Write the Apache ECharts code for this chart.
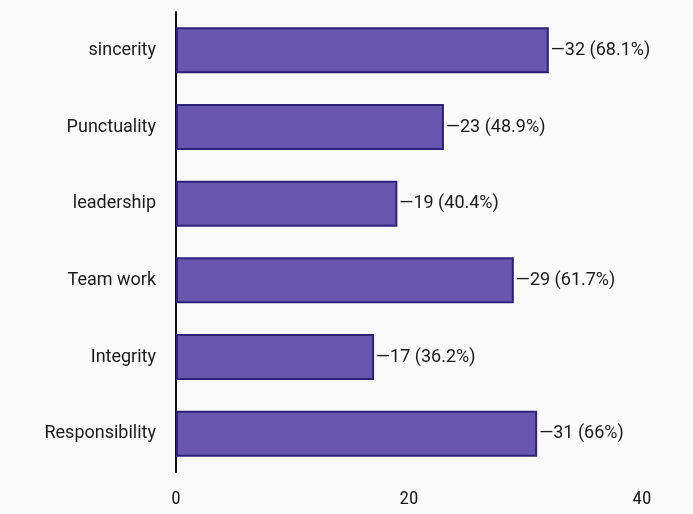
<!DOCTYPE html>
<html><head><meta charset="utf-8">
<script src="https://cdn.jsdelivr.net/npm/echarts@6/dist/echarts.min.js"></script>
<style>html,body{margin:0;padding:0;background:#fafafa;}#c{width:693px;height:514px;}</style>
</head><body><div id="c"></div>
<script>
const categories = ["sincerity","Punctuality","leadership","Team work","Integrity","Responsibility"];
const counts = [32,23,19,29,17,31];
const percents = ["68.1%","48.9%","40.4%","61.7%","36.2%","66%"];
const xTicks = [0,20,40];

const chart = echarts.init(document.getElementById('c'));
chart.setOption({
  backgroundColor:'#fafafa',
  animation:false,
  grid:{left:176,right:51,top:12,bottom:42},
  xAxis:{type:'value',min:0,max:40,interval:20,
    axisLine:{show:false},axisTick:{show:false},splitLine:{show:false},
    axisLabel:{margin:18,fontSize:19,color:'#1a1a1a',fontFamily:'Roboto Condensed, Roboto, sans-serif',
      formatter:v=>xTicks.includes(v)?String(v):''}},
  yAxis:{type:'category',inverse:true,data:categories,
    axisLine:{show:true,lineStyle:{color:'#111',width:2}},axisTick:{show:false},
    axisLabel:{margin:20,fontSize:18,color:'#1a1a1a',fontFamily:'Roboto, sans-serif'}},
  series:[{type:'bar',data:counts,barWidth:46,
    itemStyle:{color:'#6656ad',borderColor:'#2e2178',borderWidth:2},
    label:{show:true,position:'right',distance:2,fontSize:18,color:'#1a1a1a',fontFamily:'Roboto, sans-serif',
      formatter:p=>'\u2014'+p.value+' ('+percents[p.dataIndex]+')'}}]
});
</script></body></html>
